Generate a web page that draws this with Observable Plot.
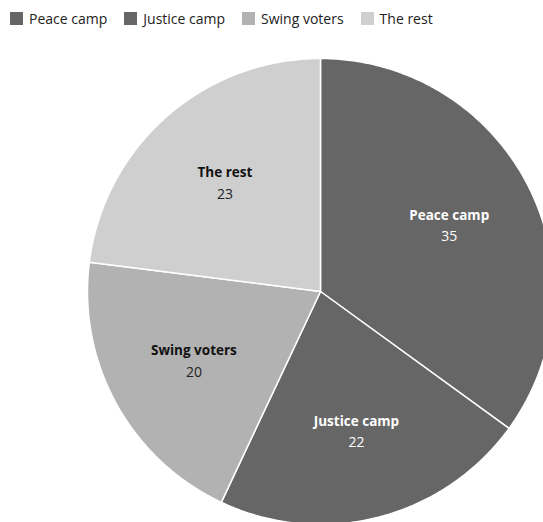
<!DOCTYPE html>
<html>
<head>
<meta charset="utf-8">
<script src="https://cdn.jsdelivr.net/npm/d3@7"></script>
<script src="https://cdn.jsdelivr.net/npm/@observablehq/plot@0.6"></script>
<style>
  html, body { margin: 0; padding: 0; background: #fff; overflow: hidden; }
  body { width: 543px; height: 522px; font-family: "Open Sans", Lato, sans-serif; }
  #legend { height: 36px; display: flex; align-items: center; padding-left: 10px; font-size: 14px; color: #222; }
  .item { display: flex; align-items: center; margin-right: 17px; }
  .sw { width: 13px; height: 13px; margin-right: 6px; }
  #chart svg { display: block; overflow: hidden; }
</style>
</head>
<body>
<div id="legend"></div>
<div id="chart"></div>
<script>
const categories = ["Peace camp", "Justice camp", "Swing voters", "The rest"];
const values = [35, 22, 20, 23];
const colors = ["#666666", "#666666", "#b2b2b2", "#cfcfcf"];

const total = d3.sum(values);
const slices = [];
const labels = [];
let cum = 0;
categories.forEach((c, i) => {
  const a0 = cum / total * 2 * Math.PI;
  cum += values[i];
  const a1 = cum / total * 2 * Math.PI;
  slices.push({cat: c, x: 0, y: 0});
  const n = Math.max(2, Math.ceil((a1 - a0) / 0.01));
  for (let k = 0; k <= n; k++) {
    const a = a0 + (a1 - a0) * k / n;
    slices.push({cat: c, x: Math.sin(a), y: Math.cos(a)});
  }
  slices.push({cat: c, x: 0, y: 0});
  const am = (a0 + a1) / 2;
  labels.push({cat: c, value: values[i], x: 0.62 * Math.sin(am), y: 0.62 * Math.cos(am), light: i >= 2});
});

// legend
const leg = document.getElementById("legend");
categories.forEach((c, i) => {
  const it = document.createElement("div");
  it.className = "item";
  const sw = document.createElement("div");
  sw.className = "sw";
  sw.style.background = colors[i];
  it.appendChild(sw);
  it.appendChild(document.createTextNode(c));
  leg.appendChild(it);
});

const R = 233, cx = 320, cy = 255;
const plot = Plot.plot({
  width: 543,
  height: 486,
  margin: 0,
  x: {domain: [-1, 1], range: [cx - R, cx + R], axis: null},
  y: {domain: [-1, 1], range: [cy + R, cy - R], axis: null},
  color: {domain: categories, range: colors},
  style: {fontFamily: "'Open Sans', Lato, sans-serif"},
  marks: [
    Plot.line(slices, {x: "x", y: "y", z: "cat", fill: "cat", stroke: "#fff", strokeWidth: 1.5, curve: "linear"}),
    Plot.text(labels, {x: "x", y: "y", text: "cat", dy: -10, fontSize: 13.5, fontWeight: "bold",
      fill: d => d.light ? "#111" : "#fff"}),
    Plot.text(labels, {x: "x", y: "y", text: d => String(d.value), dy: 11, fontSize: 14,
      fill: d => d.light ? "#222" : "#fff"})
  ]
});
document.getElementById("chart").appendChild(plot);
</script>
</body>
</html>
